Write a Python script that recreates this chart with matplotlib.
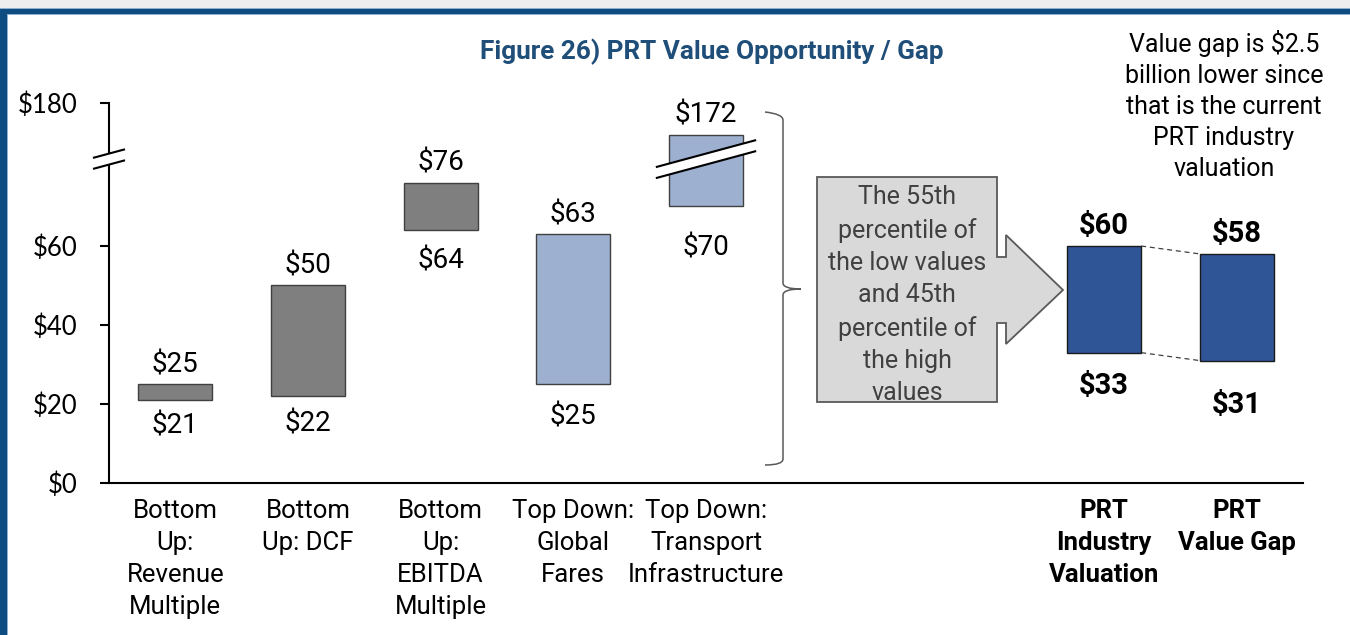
import numpy as np
import matplotlib
matplotlib.use("Agg")
import matplotlib.pyplot as plt
from matplotlib.patches import Polygon, PathPatch, Rectangle
from matplotlib.path import Path
from matplotlib.lines import Line2D
from matplotlib.transforms import IdentityTransform

# ---------------- data ----------------
method_labels = ["Bottom\nUp:\nRevenue\nMultiple", "Bottom\nUp: DCF",
                 "Bottom\nUp:\nEBITDA\nMultiple", "Top Down:\nGlobal\nFares",
                 "Top Down:\nTransport\nInfrastructure"]
method_low = [21, 22, 64, 25, 70]
method_high = [25, 50, 76, 63, 172]

prt_labels = ["PRT\nIndustry\nValuation", "PRT\nValue Gap"]
prt_low = [33, 31]
prt_high = [60, 58]

ytick_values = [0, 20, 40, 60, 180]
ytick_labels = ["$0", "$20", "$40", "$60", "$180"]

# ---------------- style ----------------
W, H, DPI = 1350, 635, 100
GRAY = "#7F7F7F"
LIGHT_BLUE = "#9DB0D0"
DARK_BLUE = "#2F5597"
BORDER_BLUE = "#0F4C81"
TITLE_BLUE = "#1F4E79"
method_colors = [GRAY, GRAY, GRAY, LIGHT_BLUE, LIGHT_BLUE]
method_pos = [0, 1, 2, 3, 4]
prt_pos = [7, 8]
BAR_W = 0.56
# distance (px) from bar bottom to the baseline of its low-value label
method_low_drop = [33, 35, 38, 40, 49]
prt_low_drop = [41, 52]
TOP_RISE = 12  # px from bar top to baseline of its high-value label

FONT = "Roboto"
TICK_FONT = "Lato"
VALUE_SIZE = 20
BOLD_VALUE_SIZE = 21
CAT_SIZE = 18.5

# broken value axis: the span between BREAK_LO and BREAK_HI is cut out
BREAK_LO, BREAK_HI = 82.0, 165.8


def fwd(v):
    v = np.asarray(v, dtype=float)
    return np.where(v <= BREAK_LO, v,
                    np.where(v >= BREAK_HI, BREAK_LO + (v - BREAK_HI), BREAK_LO))


def inv(d):
    d = np.asarray(d, dtype=float)
    return np.where(d <= BREAK_LO, d, BREAK_HI + (d - BREAK_LO))


fig = plt.figure(figsize=(W / DPI, H / DPI), dpi=DPI)
fig.patch.set_facecolor("white")


def disp(x, y):
    """image pixel (top-left origin) -> display coords"""
    return (x, H - y)


# plotting area: x 109..1303, y 103..483 (pixels from top-left)
ax = fig.add_axes([109 / W, (H - 483) / H, (1303 - 109) / W, (483 - 103) / H])
ax.set_yscale("function", functions=(fwd, inv))
ax.set_ylim(0, 180)
ax.set_xlim(-0.5, 8.5)

for s in ["top", "right"]:
    ax.spines[s].set_visible(False)
for s in ["left", "bottom"]:
    ax.spines[s].set_linewidth(1.5)
    ax.spines[s].set_color("black")

ax.set_yticks(ytick_values)
ax.set_yticklabels(ytick_labels, fontfamily=TICK_FONT, fontsize=18.5)
ax.yaxis.set_minor_locator(matplotlib.ticker.NullLocator())
ax.tick_params(axis="y", direction="out", length=6.5, width=1.5, pad=16)

all_pos = method_pos + [5, 6] + prt_pos
all_labels = method_labels + ["", ""] + prt_labels
ax.set_xticks(all_pos)
ax.set_xticklabels(all_labels, fontfamily=FONT, fontsize=CAT_SIZE, linespacing=1.43)
ax.tick_params(axis="x", length=0, pad=11.5)
for lbl in ax.get_xticklabels()[-2:]:
    lbl.set_fontweight("bold")

# floating bars
ax.bar(method_pos, np.subtract(method_high, method_low), bottom=method_low,
       width=BAR_W, color=method_colors, edgecolor="#404040", linewidth=1, zorder=3)
ax.bar(prt_pos, np.subtract(prt_high, prt_low), bottom=prt_low,
       width=BAR_W, color=DARK_BLUE, edgecolor="#1A1A1A", linewidth=1, zorder=3)

PX2PT = 72 / DPI
for x, lo, hi, drop in zip(method_pos, method_low, method_high, method_low_drop):
    ax.annotate(f"${hi}", (x, hi), xytext=(0, TOP_RISE * PX2PT), textcoords="offset points",
                ha="center", va="baseline", fontsize=VALUE_SIZE, fontfamily=FONT)
    ax.annotate(f"${lo}", (x, lo), xytext=(0, -drop * PX2PT), textcoords="offset points",
                ha="center", va="baseline", fontsize=VALUE_SIZE, fontfamily=FONT)
for x, lo, hi, drop in zip(prt_pos, prt_low, prt_high, prt_low_drop):
    ax.annotate(f"${hi}", (x, hi), xytext=(0, TOP_RISE * PX2PT), textcoords="offset points",
                ha="center", va="baseline", fontsize=BOLD_VALUE_SIZE, fontfamily=FONT,
                fontweight="bold")
    ax.annotate(f"${lo}", (x, lo), xytext=(0, -drop * PX2PT), textcoords="offset points",
                ha="center", va="baseline", fontsize=BOLD_VALUE_SIZE, fontfamily=FONT,
                fontweight="bold")

# dashed connectors between the two PRT bars
x0, x1 = prt_pos[0] + BAR_W / 2, prt_pos[1] - BAR_W / 2
ax.plot([x0, x1], [prt_high[0], prt_high[1]], ls=(0, (4, 3)), color="#404040", lw=0.9, zorder=2)
ax.plot([x0, x1], [prt_low[0], prt_low[1]], ls=(0, (4, 3)), color="#404040", lw=0.9, zorder=2)


# break symbols (display coords)
def break_mark(cx, cy, hw, gap=11, slope=0.27):
    top = [(cx - hw, cy + gap / 2 - slope * hw), (cx + hw, cy + gap / 2 + slope * hw)]
    bot = [(cx - hw, cy - gap / 2 - slope * hw), (cx + hw, cy - gap / 2 + slope * hw)]
    fig.add_artist(Polygon(top + bot[::-1], closed=True, facecolor="white", edgecolor="none",
                           transform=IdentityTransform(), zorder=10))
    for seg in (top, bot):
        fig.add_artist(Line2D([seg[0][0], seg[1][0]], [seg[0][1], seg[1][1]], color="black",
                              lw=1.5, transform=IdentityTransform(), zorder=11))


fig.canvas.draw()
bx, by = ax.transData.transform((method_pos[4], BREAK_LO))
ax_x, _ = ax.transData.transform((-0.5, BREAK_LO))
bar_half = (ax.transData.transform((method_pos[4] + BAR_W / 2, 0))[0] - bx)
break_mark(ax_x, by, 15)
break_mark(bx, by, bar_half + 12)

# bracket grouping the five estimates
bracket_pts = [(765, 112), (783, 114), (783, 120), (783, 283), (783, 289), (801, 289),
               (783, 289), (783, 295), (783, 459), (783, 465), (765, 465)]
bracket = Path([disp(*p) for p in bracket_pts],
               [Path.MOVETO, Path.CURVE3, Path.CURVE3, Path.LINETO, Path.CURVE3, Path.CURVE3,
                Path.CURVE3, Path.CURVE3, Path.LINETO, Path.CURVE3, Path.CURVE3])
fig.add_artist(PathPatch(bracket, facecolor="none", edgecolor="#595959", lw=1.1,
                         transform=IdentityTransform(), zorder=5))

# arrow callout
callout = [(817, 177), (997, 177), (997, 257), (1006, 257), (1006, 235), (1063, 290),
           (1006, 344), (1006, 323), (997, 323), (997, 402), (817, 402)]
fig.add_artist(Polygon([disp(*p) for p in callout], closed=True, facecolor="#D9D9D9",
                       edgecolor="#595959", lw=1.3, transform=IdentityTransform(), zorder=5))
fig.text(907 / W, 1 - 400 / H,
         "The 55th\npercentile of\nthe low values\nand 45th\npercentile of\nthe high\nvalues",
         ha="center", va="baseline", fontsize=18, fontfamily=FONT, color="#404040",
         linespacing=1.43, zorder=6)

# title and note
fig.text(712 / W, 1 - 59 / H, "Figure 26) PRT Value Opportunity / Gap", ha="center",
         va="baseline", fontsize=18.8, fontweight="bold", fontfamily=FONT, color=TITLE_BLUE)
fig.text(1224 / W, 1 - 176 / H,
         "Value gap is $2.5\nbillion lower since\nthat is the current\nPRT industry\nvaluation",
         ha="center", va="baseline", fontsize=18, fontfamily=FONT, color="black",
         linespacing=1.37)

# page frame
fig.add_artist(Rectangle((0, 1 - 8 / H), 1, 8 / H, transform=fig.transFigure,
                         facecolor="#EEEEEE", edgecolor="none", zorder=20))
fig.add_artist(Rectangle((0, 1 - 15 / H), 1, 7 / H, transform=fig.transFigure,
                         facecolor="#8FB0CF", edgecolor="none", zorder=20))
fig.add_artist(Rectangle((0, 1 - 14 / H), 1, 5 / H, transform=fig.transFigure,
                         facecolor=BORDER_BLUE, edgecolor="none", zorder=21))
fig.add_artist(Rectangle((0, 0), 8 / W, 1 - 9 / H, transform=fig.transFigure,
                         facecolor="#8FB0CF", edgecolor="none", zorder=20))
fig.add_artist(Rectangle((0, 0), 7 / W, 1 - 9 / H, transform=fig.transFigure,
                         facecolor=BORDER_BLUE, edgecolor="none", zorder=21))

fig.savefig("out.png", dpi=DPI)
